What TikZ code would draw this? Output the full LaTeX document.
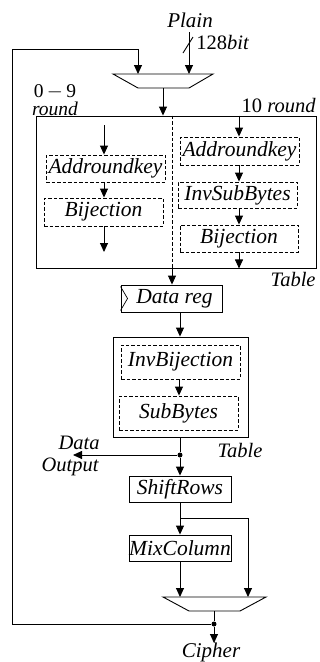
\documentclass[tikz,border=0pt]{standalone}
\usepackage{fontspec}
\setmainfont{Liberation Serif}
\usetikzlibrary{arrows.meta,calc}
\begin{document}
\begin{tikzpicture}[x=1pt,y=-1pt,
  line width=0.9pt,
  arr/.style={-{Triangle[length=9pt,width=8pt]}},
  txt/.style={font=\fontsize{21}{22}\selectfont\itshape, inner sep=0pt},
  lbl/.style={font=\fontsize{20.5}{22}\selectfont, inner sep=0pt},
  ilbl/.style={font=\fontsize{20.5}{22}\selectfont\itshape, inner sep=0pt},
  sbox/.style={draw, rectangle, inner sep=0pt, font=\fontsize{21.5}{22}\selectfont\itshape},
  dbox/.style={sbox, dash pattern=on 3.5pt off 2pt},
  dotn/.style={circle, fill, inner sep=0pt, minimum size=5pt}]
\useasboundingbox (0,0) rectangle (320,662);
% big table box
\node[draw, rectangle, minimum width=280pt, minimum height=152pt, inner sep=0pt] (big) at (176,192) {};
% left column
\node[dbox, minimum width=119pt, minimum height=27pt] (la) at (105.5,168.5) {Addroundkey};
\node[dbox, minimum width=119pt, minimum height=28pt] (lb) at (103.5,212) {Bijection};
\coordinate (lin) at (104,125);
\coordinate (lout) at (104,252);
\draw[arr] (lin) -- (lin |- la.north);
\draw[arr] (104,0 |- la.south) -- (104,0 |- lb.north);
\draw[arr] (104,0 |- lb.south) -- (lout);
% right column
\node[dbox, minimum width=119pt, minimum height=28pt] (ra) at (239.5,151) {Addroundkey};
\node[dbox, minimum width=119pt, minimum height=26pt] (rb) at (237.5,195) {InvSubBytes};
\node[dbox, minimum width=118pt, minimum height=27pt] (rc) at (239,238.5) {Bijection};
\draw[arr] (239,0 |- big.north) -- (239,0 |- ra.north);
\draw[arr] (239,0 |- ra.south) -- (239,0 |- rb.north);
\draw[arr] (239,0 |- rb.south) -- (239,0 |- rc.north);
\draw[arr] (239,0 |- rc.south) -- (239,0 |- big.south);
% top mux
\coordinate (m1a) at (113,74); \coordinate (m1b) at (213,74);
\coordinate (m1c) at (189,88); \coordinate (m1d) at (138,88);
\draw (m1a) -- (m1b) -- (m1c) -- (m1d) -- cycle;
\coordinate (m1in1) at (138,74); \coordinate (m1in2) at (189,74);
\coordinate (m1out) at (163,88);
% plain input
\node[txt] (plain) at (190,20) {Plain};
\coordinate (pin) at (189,32);
\draw[arr] (pin) -- (m1in2);
\coordinate (s1) at (183,53); \coordinate (s2) at (193,37);
\draw (s1) -- (s2);
\node[lbl, anchor=west] (bits) at (196,42) {128\textit{bit}};
\draw[arr] (m1out) -- (163,0 |- big.north);
% labels of big box
\node[lbl, font=\fontsize{19.5}{20}\selectfont, text height=10pt, text depth=0pt] (r09) at (55,92) {0\,$-$\,9};
\node[ilbl, font=\fontsize{19.5}{20}\selectfont\itshape, text height=8pt, text depth=2pt] (rnd) at (55,112) {round};
\node[lbl, anchor=east] (r10) at (316,106) {10 \textit{round}};
\node[ilbl, anchor=east] (tab1) at (316,279) {Table};
% dashed line through
\coordinate (dtop) at (172,0 |- big.north);
\coordinate (dbot) at (172,0 |- big.south);
\draw[dash pattern=on 3.5pt off 2pt] (dtop) -- (dbot);
% data reg
\node[sbox, minimum width=101pt, minimum height=27pt] (dreg) at (171.5,298.5) {\hspace{6pt}Data reg};
\draw[line width=0.7pt] ($(dreg.north west)+(0,2)$) -- ($(dreg.west)+(7,0)$) -- ($(dreg.south west)+(0,-2)$);
\draw[arr] (dbot) -- (172,0 |- dreg.north);
% second table
\node[draw, rectangle, minimum width=135pt, minimum height=100pt, inner sep=0pt] (box2) at (180.5,387) {};
\node[dbox, minimum width=119pt, minimum height=34pt] (ib) at (180.5,362) {InvBijection};
\node[dbox, minimum width=119pt, minimum height=34pt] (sb) at (178.5,413) {SubBytes};
\draw[arr] (180,0 |- dreg.south) -- (180,0 |- box2.north);
\draw[arr] (179,0 |- ib.south) -- (179,0 |- sb.north);
\node[ilbl] (tab2) at (240,450) {Table};
% output branch
\node[sbox, minimum width=102pt, minimum height=26pt] (sr) at (180,489) {ShiftRows};
\node[dotn] (d1) at (180,455) {};
\draw (180,0 |- box2.south) -- (d1);
\draw[arr] (d1) -- (sr.north);
\coordinate (dout) at (73,455);
\draw[arr] (d1) -- (dout);
\node[ilbl] (dtxt) at (79,443) {Data};
\node[ilbl] (otxt) at (70,467) {Output};
% mix column
\node[sbox, minimum width=102pt, minimum height=26pt] (mc) at (180,548) {MixColumn};
\coordinate (br) at (180,518);
\draw[arr] (sr.south) -- (mc.north);
% bottom mux
\coordinate (m2a) at (163,597); \coordinate (m2b) at (266,597);
\coordinate (m2c) at (240,611); \coordinate (m2d) at (189,611);
\draw (m2a) -- (m2b) -- (m2c) -- (m2d) -- cycle;
\coordinate (m2in1) at (180,597); \coordinate (m2in2) at (248,597);
\coordinate (m2out) at (214,611);
\draw[arr] (mc.south) -- (m2in1);
\draw[arr] (br) -- (248,518) -- (m2in2);
% cipher
\node[dotn] (d2) at (214,624) {};
\node[txt] (ciph) at (211,652) {Cipher};
\draw (m2out) -- (d2);
\coordinate (cout) at (214,643);
\draw[arr] (d2) -- (cout);
% feedback
\draw[arr] (d2) -- (12,624) -- (12,49) -- (138,49) -- (m1in1);
\end{tikzpicture}
\end{document}
